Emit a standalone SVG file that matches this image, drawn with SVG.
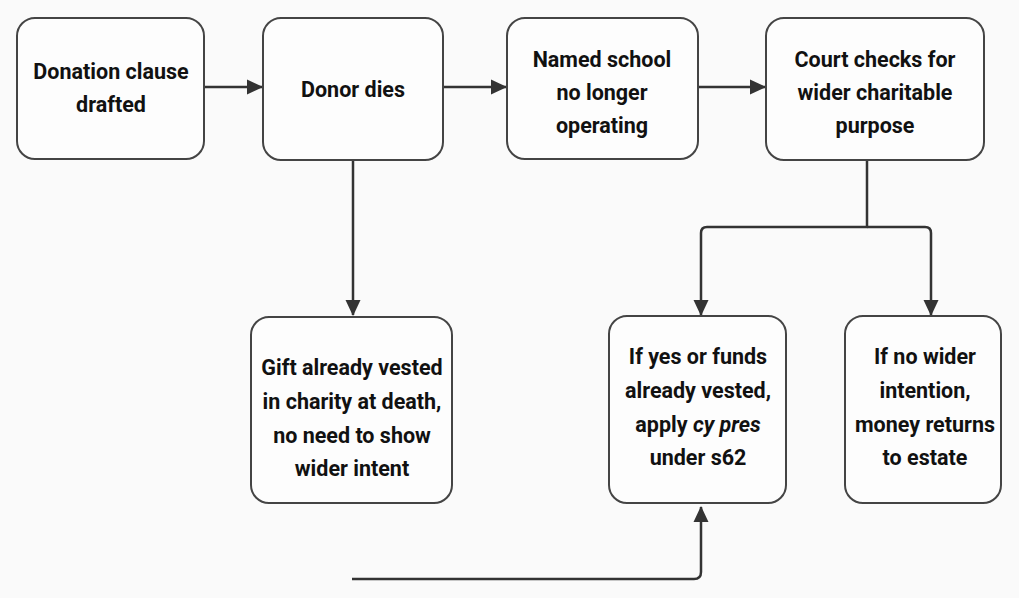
<svg xmlns="http://www.w3.org/2000/svg" width="1019" height="598" viewBox="0 0 1019 598">
<style>
.box{fill:#fdfdfd;stroke:#444;stroke-width:2}
.t{font-family:Roboto,"Liberation Sans",Arial,sans-serif;font-weight:bold;font-size:21.5px;fill:#111;text-anchor:middle}
.c{fill:none;stroke:#333;stroke-width:2.5;stroke-linejoin:round}
</style>
<defs>
<marker id="ah" markerWidth="16" markerHeight="16" viewBox="0 0 16 16" refX="15" refY="8" orient="auto" markerUnits="userSpaceOnUse">
<path d="M0,0.5 L16,8 L0,15.5 Z" fill="#333"/>
</marker>
</defs>
<rect width="1019" height="598" fill="#fafafa"/>
<g id="connectors">
<path class="c" d="M204,87 H262" marker-end="url(#ah)"/>
<path class="c" d="M443,87 H506" marker-end="url(#ah)"/>
<path class="c" d="M698,87 H765" marker-end="url(#ah)"/>
<path class="c" d="M353,160 V315" marker-end="url(#ah)"/>
<path class="c" d="M867,160 V227 H707 Q701,227 701,233 V315" marker-end="url(#ah)"/>
<path class="c" d="M867,227 H925 Q931,227 931,233 V315" marker-end="url(#ah)"/>
<path class="c" d="M352,579 H694 Q701,579 701,572 V507" marker-end="url(#ah)"/>
</g>
<g id="n1">
<rect class="box" x="17" y="18" width="187" height="141" rx="18"/>
<text class="t" x="111" y="79">Donation clause</text>
<text class="t" x="111" y="112">drafted</text>
</g>
<g id="n2">
<rect class="box" x="263" y="18" width="180" height="142" rx="18"/>
<text class="t" x="353" y="97">Donor dies</text>
</g>
<g id="n3">
<rect class="box" x="507" y="18" width="191" height="141" rx="18"/>
<text class="t" x="602" y="67">Named school</text>
<text class="t" x="602" y="100">no longer</text>
<text class="t" x="602" y="133">operating</text>
</g>
<g id="n4">
<rect class="box" x="766" y="18" width="218" height="142" rx="18"/>
<text class="t" x="875" y="67">Court checks for</text>
<text class="t" x="875" y="100">wider charitable</text>
<text class="t" x="875" y="133">purpose</text>
</g>
<g id="n5">
<rect class="box" x="251" y="317" width="201" height="186" rx="18"/>
<text class="t" x="352" y="375">Gift already vested</text>
<text class="t" x="352" y="409">in charity at death,</text>
<text class="t" x="352" y="443">no need to show</text>
<text class="t" x="352" y="476">wider intent</text>
</g>
<g id="n6">
<rect class="box" x="609" y="316" width="177" height="187" rx="18"/>
<text class="t" x="698" y="364">If yes or funds</text>
<text class="t" x="698" y="398">already vested,</text>
<text class="t" x="698" y="432">apply <tspan font-style="italic">cy pres</tspan></text>
<text class="t" x="698" y="465">under s62</text>
</g>
<g id="n7">
<rect class="box" x="845" y="316" width="156" height="187" rx="18"/>
<text class="t" x="925" y="364">If no wider</text>
<text class="t" x="925" y="398">intention,</text>
<text class="t" x="925" y="432">money returns</text>
<text class="t" x="925" y="465">to estate</text>
</g>
</svg>
